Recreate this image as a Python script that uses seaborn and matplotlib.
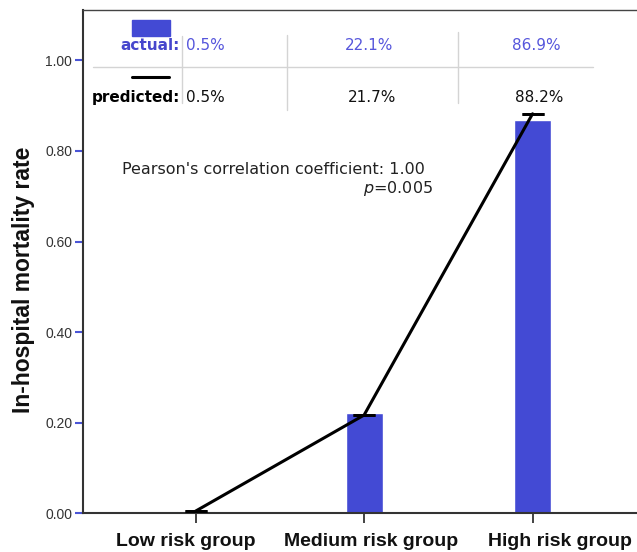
import numpy as np
import matplotlib
matplotlib.use("Agg")
import matplotlib.pyplot as plt
import matplotlib.transforms as mtransforms
import seaborn as sns
from matplotlib.patches import Rectangle

# data
groups = ["Low risk group", "Medium risk group", "High risk group"]
actual = [0.005, 0.221, 0.869]
predicted = [0.005, 0.217, 0.882]
yticks = [0.0, 0.2, 0.4, 0.6, 0.8, 1.0]

bar_blue = "#434ad4"
text_blue = "#5656dc"

sns.set_style("white")
plt.rcParams["font.family"] = ["Liberation Sans", "DejaVu Sans"]

fig = plt.figure(figsize=(6.37, 5.52), dpi=100)
ax = fig.add_axes([0.131, 0.070, 0.869, 0.911])

sns.barplot(x=groups, y=actual, color=bar_blue, saturation=1, width=0.22,
            errorbar=None, ax=ax)

# predicted line with small caps
ax.errorbar(range(len(groups)), predicted, yerr=0, color="black", lw=2.2,
            capsize=8, capthick=2, zorder=5)

ax.set_xlim(-0.666, 2.62)
ax.set_ylim(0, 1.11)
ax.set_yticks(yticks)
ax.set_yticklabels([f"{v:.2f}" for v in yticks], fontsize=10, color="#333333")
ax.tick_params(axis="y", length=6, width=1.5, color="#4a55d6", pad=2, left=True)
ax.tick_params(axis="x", length=7, width=1.2, color="#222222", pad=7, bottom=True)
# labels in the original sit a little off their ticks
shifts = [-10, 7, 27]
for lab, dx in zip(ax.get_xticklabels(), shifts):
    lab.set_fontweight("bold")
    lab.set_fontsize(14)
    lab.set_color("#111111")
    lab.set_transform(lab.get_transform() +
                      mtransforms.ScaledTranslation(dx / 100, 0, fig.dpi_scale_trans))

ax.set_ylabel("In-hospital mortality rate", fontsize=16.5, fontweight="bold",
              color="#111111")
ax.yaxis.set_label_coords(-0.088, 0.465)
ax.set_xlabel("")

for side in ["left", "bottom"]:
    ax.spines[side].set_color("#333333")
    ax.spines[side].set_linewidth(1.5)
ax.spines["top"].set_color("#444444")
ax.spines["top"].set_linewidth(1.0)
ax.spines["right"].set_visible(False)

# table at the top of the plot
tf = "DejaVu Sans"
ax.add_patch(Rectangle((-0.376, 1.054), 0.222, 0.035, color=bar_blue, zorder=4))
ax.plot([-0.38, -0.16], [0.963, 0.963], color="black", lw=2.2)
for xv, y0, y1 in [(-0.083, 0.906, 1.054), (0.54, 0.89, 1.056), (1.56, 0.906, 1.062)]:
    ax.plot([xv, xv], [y0, y1], color="#d4d4d4", lw=1)
ax.plot([-0.61, 2.36], [0.986, 0.986], color="#d4d4d4", lw=1)

ax.text(-0.095, 1.032, "actual:", ha="right", va="center", fontsize=11,
        fontweight="bold", color="#4646cc", family=tf)
ax.text(-0.095, 0.917, "predicted:", ha="right", va="center", fontsize=11,
        fontweight="bold", color="black", family=tf)
xs = [-0.06, 1.03, 2.02]
for i, (a, p) in enumerate(zip(actual, predicted)):
    ha = "left" if i == 0 else "center"
    ax.text(xs[i], 1.032, f"{a*100:.1f}%", ha=ha, va="center", fontsize=11,
            color=text_blue, family=tf)
    ax.text(xs[i] + (0 if i == 0 else 0.02), 0.917, f"{p*100:.1f}%", ha=ha,
            va="center", fontsize=11, color="#111111", family=tf)

ax.text(-0.44, 0.76, "Pearson's correlation coefficient: 1.00", ha="left",
        va="center", fontsize=11.5, color="#222222", family=tf)
ax.text(1.41, 0.718, "$p$=0.005", ha="right", va="center", fontsize=11.5,
        color="#222222", family=tf)

fig.savefig("out.png", dpi=100)
